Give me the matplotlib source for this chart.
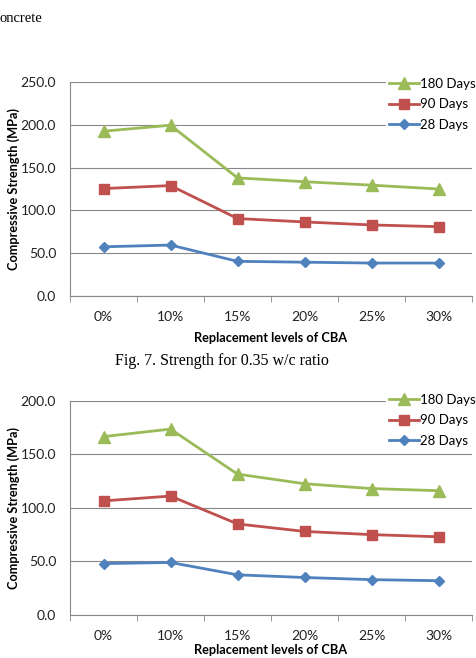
import matplotlib.pyplot as plt

# data
levels = ['0%', '10%', '15%', '20%', '25%', '30%']

# chart 1 (top)
d180_a = [192.5, 199.5, 138.0, 133.5, 129.5, 125.0]
d90_a = [125.5, 129.0, 90.5, 86.5, 83.0, 81.0]
d28_a = [57.5, 59.5, 40.5, 39.5, 38.5, 38.5]

# chart 2 (bottom) - 0.35 w/c ratio
d180_b = [166.5, 173.5, 131.5, 122.5, 118.0, 116.0]
d90_b = [106.5, 111.0, 85.0, 78.0, 75.0, 73.0]
d28_b = [48.0, 49.0, 37.5, 35.0, 33.0, 32.0]

green = '#9BBB59'
red = '#C0504D'
blue = '#4F81BD'

plt.rcParams['font.family'] = ['Lato', 'DejaVu Sans']

fig = plt.figure(figsize=(4.76, 6.58), dpi=100)


def draw(ax, d180, d90, d28, ymax, legend_top):
    x = range(len(levels))
    ax.plot(x, d180, color=green, lw=2.0, marker='^', ms=8, label='180 Days')
    ax.plot(x, d90, color=red, lw=2.0, marker='s', ms=7.5, label='90 Days')
    ax.plot(x, d28, color=blue, lw=2.0, marker='D', ms=5.5, label='28 Days')

    ax.set_xlim(-0.5, len(levels) - 0.5)
    ax.set_ylim(0, ymax)
    ax.set_yticks(range(0, ymax + 1, 50))
    ax.set_yticklabels(['%.1f' % v for v in range(0, ymax + 1, 50)], fontsize=10, color='#222222')
    ax.set_xticks(list(x))
    ax.set_xticklabels(levels, fontsize=10, color='#222222')
    ax.set_xticks([i - 0.5 for i in range(len(levels) + 1)], minor=True)
    ax.tick_params(axis='x', which='major', length=0, pad=11)
    ax.tick_params(axis='x', which='minor', length=4, color='#888888')
    ax.tick_params(axis='y', length=0, pad=10)

    ax.yaxis.grid(True, color='#888888', lw=0.8)
    ax.set_axisbelow(True)
    for s in ['top', 'right']:
        ax.spines[s].set_visible(False)
    ax.spines['left'].set_color('#888888')
    ax.spines['bottom'].set_color('#888888')

    ax.set_ylabel('Compressive Strength (MPa)', fontsize=9.2, fontweight='bold')
    ax.yaxis.set_label_coords(-0.125, 0.5)
    ax.set_xlabel('Replacement levels of CBA', fontsize=9.2, fontweight='bold')

    leg = ax.legend(loc='upper left', bbox_to_anchor=(386 / 476, legend_top),
                    bbox_transform=fig.transFigure, frameon=True, fontsize=9.5,
                    handlelength=2.3, handletextpad=0.1, labelspacing=0.65,
                    borderaxespad=0, borderpad=0.2)
    leg.get_frame().set_facecolor('white')
    leg.get_frame().set_edgecolor('none')
    leg.get_frame().set_alpha(1)


ax1 = fig.add_axes([70 / 476, 1 - 296 / 658, 402 / 476, 214 / 658])
draw(ax1, d180_a, d90_a, d28_a, 250, 1 - 75 / 658)
ax1.xaxis.set_label_coords(0.5, -0.17)

ax2 = fig.add_axes([70 / 476, 1 - 615 / 658, 402 / 476, 214.3 / 658])
draw(ax2, d180_b, d90_b, d28_b, 200, 1 - 391 / 658)
ax2.xaxis.set_label_coords(0.5, -0.135)

fig.text(0.0, 1 - 19 / 658, 'oncrete', family='Liberation Serif', fontsize=10.5,
         va='center', ha='left')
fig.text(222 / 476, 1 - 361 / 658, 'Fig. 7. Strength for 0.35 w/c ratio',
         family='Liberation Serif', fontsize=11.5, va='center', ha='center')

fig.savefig('out.png', dpi=100)
